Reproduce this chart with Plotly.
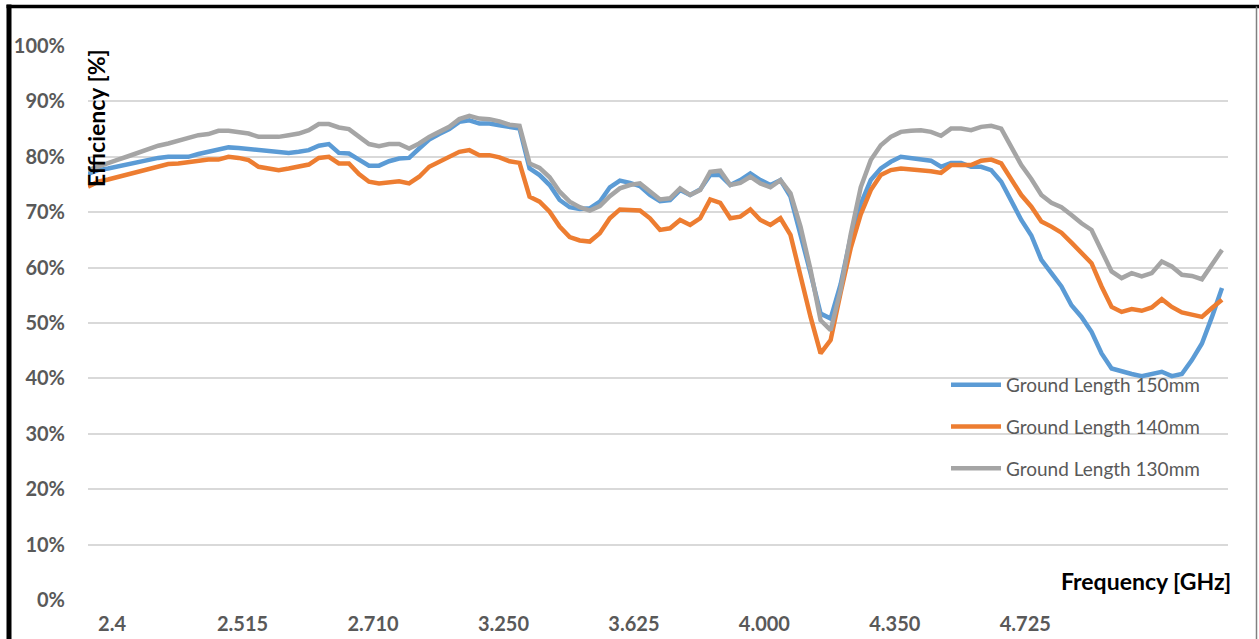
import plotly.graph_objects as go

# Tick labels (frequency, GHz) shown on the category axis
x_tick_labels = ["2.4", "2.515", "2.710", "3.250", "3.625", "4.000", "4.350", "4.725"]

series_names = ["Ground Length 150mm", "Ground Length 140mm", "Ground Length 130mm"]

eff_150 = [76.9, 77.6, 77.9, 78.3, 78.7, 79.0, 79.4, 79.8, 80.0, 79.9,
           80.0, 80.5, 80.9, 81.2, 81.7, 81.6, 81.4, 81.2, 80.9, 80.7,
           80.7, 80.9, 81.2, 82.0, 82.3, 80.7, 80.6, 79.5, 78.4, 78.4,
           79.2, 79.7, 79.8, 81.5, 83.1, 84.1, 85.0, 86.3, 86.6, 86.0,
           86.0, 85.7, 85.3, 85.1, 77.9, 76.7, 74.9, 72.2, 70.9, 70.6,
           70.7, 71.9, 74.5, 75.7, 75.3, 74.7, 73.1, 72.0, 72.2, 74.0,
           73.1, 74.1, 76.7, 76.7, 74.9, 75.8, 77.0, 75.8, 74.9, 75.8,
           72.8, 66.2, 59.0, 51.7, 50.8, 57.0, 65.5, 71.5, 75.8, 77.9,
           79.1, 80.0, 79.7, 79.5, 79.3, 78.2, 78.9, 78.9, 78.2, 78.2,
           77.6, 75.5, 72.2, 68.6, 65.8, 61.4, 59.0, 56.6, 53.2, 51.1,
           48.4, 44.5, 41.8, 41.2, 40.8, 40.4, 40.8, 41.2, 40.4, 40.8,
           43.3, 46.3, 51.1, 56.3]

eff_140 = [74.6, 75.5, 75.9, 76.4, 76.9, 77.3, 77.9, 78.3, 78.7, 78.8,
           79.0, 79.4, 79.5, 79.5, 80.0, 79.8, 79.4, 78.2, 77.9, 77.6,
           77.9, 78.3, 78.6, 79.8, 80.0, 78.8, 78.8, 76.9, 75.5, 75.2,
           75.5, 75.6, 75.2, 76.4, 78.2, 79.1, 80.1, 80.9, 81.2, 80.3,
           80.3, 79.9, 79.2, 78.9, 72.8, 71.9, 70.1, 67.4, 65.5, 64.9,
           64.7, 66.2, 68.9, 70.5, 70.4, 70.3, 68.9, 66.8, 67.1, 68.6,
           67.7, 68.9, 72.3, 71.7, 68.9, 69.2, 70.5, 68.6, 67.7, 68.9,
           65.9, 58.4, 51.1, 44.5, 46.9, 55.5, 63.5, 69.6, 74.0, 76.7,
           77.6, 77.9, 77.8, 77.6, 77.4, 77.1, 78.5, 78.5, 78.5, 79.3,
           79.5, 78.8, 75.8, 73.1, 71.0, 68.3, 67.4, 66.3, 64.5, 62.6,
           60.8, 56.6, 52.9, 52.0, 52.5, 52.2, 52.8, 54.3, 52.9, 51.9,
           51.6, 51.1, 52.7, 54.2]

eff_130 = [77.6, 78.3, 78.9, 79.5, 80.1, 80.7, 81.5, 82.0, 82.4, 82.9,
           83.6, 83.9, 84.1, 84.7, 84.7, 84.4, 84.2, 83.6, 83.6, 83.6,
           83.9, 84.2, 84.8, 85.9, 85.9, 85.3, 85.0, 83.6, 82.3, 81.9,
           82.3, 82.3, 81.5, 82.4, 83.6, 84.5, 85.4, 86.8, 87.4, 86.9,
           86.8, 86.4, 85.8, 85.6, 78.8, 78.0, 76.3, 73.7, 71.9, 70.9,
           70.3, 71.1, 72.9, 74.3, 74.9, 75.2, 73.7, 72.3, 72.5, 74.3,
           73.1, 74.0, 77.3, 77.5, 74.9, 75.3, 76.4, 75.2, 74.5, 75.8,
           73.4, 67.4, 59.6, 50.5, 48.7, 56.0, 66.0, 74.5, 79.4, 82.1,
           83.6, 84.5, 84.7, 84.8, 84.5, 83.8, 85.1, 85.1, 84.8, 85.4,
           85.6, 85.1, 81.8, 78.5, 76.0, 73.1, 71.7, 70.9, 69.5, 68.0,
           66.8, 62.9, 59.3, 58.1, 59.0, 58.4, 59.0, 61.1, 60.2, 58.7,
           58.5, 57.9, 60.5, 63.2]

colors = ["#5B9BD5", "#ED7D31", "#A5A5A5"]
n = len(eff_150)
xs = list(range(n))

fig = go.Figure()
for name, vals, col in zip(series_names, [eff_150, eff_140, eff_130], colors):
    fig.add_trace(go.Scatter(x=xs, y=vals, mode="lines", name=name,
                             legendgroup=name,
                             line=dict(color=col, width=4.5)))

W, H = 1259, 639
L, R, T, B = 88, 31, 46, 39
pw, ph = W - L - R, H - T - B

def px(xpix):
    return (xpix - L) / pw

def py(ypix):
    return (H - B - ypix) / ph

label_step = 13
label_offset = 2.4
tickvals = [label_offset + label_step * k for k in range(len(x_tick_labels))]

font_main = "Lato, 'Open Sans', sans-serif"

fig.update_layout(
    width=W, height=H,
    margin=dict(l=L, r=R, t=T, b=B, autoexpand=False),
    plot_bgcolor="white", paper_bgcolor="white",
    font=dict(family=font_main),
    showlegend=True,
    legend=dict(x=px(946), y=py(366), xanchor="left", yanchor="top",
                bgcolor="rgba(0,0,0,0)", tracegroupgap=14,
                traceorder="grouped", itemwidth=50,
                font=dict(family=font_main, size=19, color="#595959")),
    xaxis=dict(range=[0, (1228 - 88) / ((1222 - 88) / (n - 1))],
               tickmode="array", tickvals=tickvals, ticktext=x_tick_labels,
               showgrid=False, zeroline=False, showline=False, ticks="",
               ticklabelstandoff=10, automargin=False,
               tickfont=dict(family=font_main, size=20, color="#595959", weight="bold")),
    yaxis=dict(range=[0, 100], dtick=10, ticksuffix="%",
               showgrid=True, gridcolor="#D9D9D9", gridwidth=1.5,
               zeroline=False, showline=False, ticks="",
               ticklabelstandoff=22, automargin=False,
               tickfont=dict(family=font_main, size=20, color="#595959", weight="bold")),
    annotations=[
        dict(text="Efficiency [%]", xref="paper", yref="paper",
             x=px(96), y=py(118), xanchor="center", yanchor="middle",
             textangle=-90, showarrow=False,
             font=dict(family=font_main, size=23, color="black", weight="bold")),
        dict(text="Frequency [GHz]", xref="paper", yref="paper",
             x=px(1233), y=py(581), xanchor="right", yanchor="middle",
             showarrow=False,
             font=dict(family=font_main, size=23, color="black", weight="bold")),
    ],
    shapes=[
        dict(type="line", xref="paper", yref="paper",
             x0=px(9), x1=px(9), y0=py(660), y1=py(4.5),
             line=dict(color="black", width=5)),
        dict(type="line", xref="paper", yref="paper",
             x0=px(6.5), x1=px(1262), y0=py(6.5), y1=py(6.5),
             line=dict(color="black", width=3.5)),
        dict(type="line", xref="paper", yref="paper",
             x0=px(1256.5), x1=px(1256.5), y0=py(660), y1=py(6.5),
             line=dict(color="#808080", width=1.5)),
    ],
)

fig.write_html("out.html",
               config={"displayModeBar": False},
               post_script="document.body.style.margin='0px';")
